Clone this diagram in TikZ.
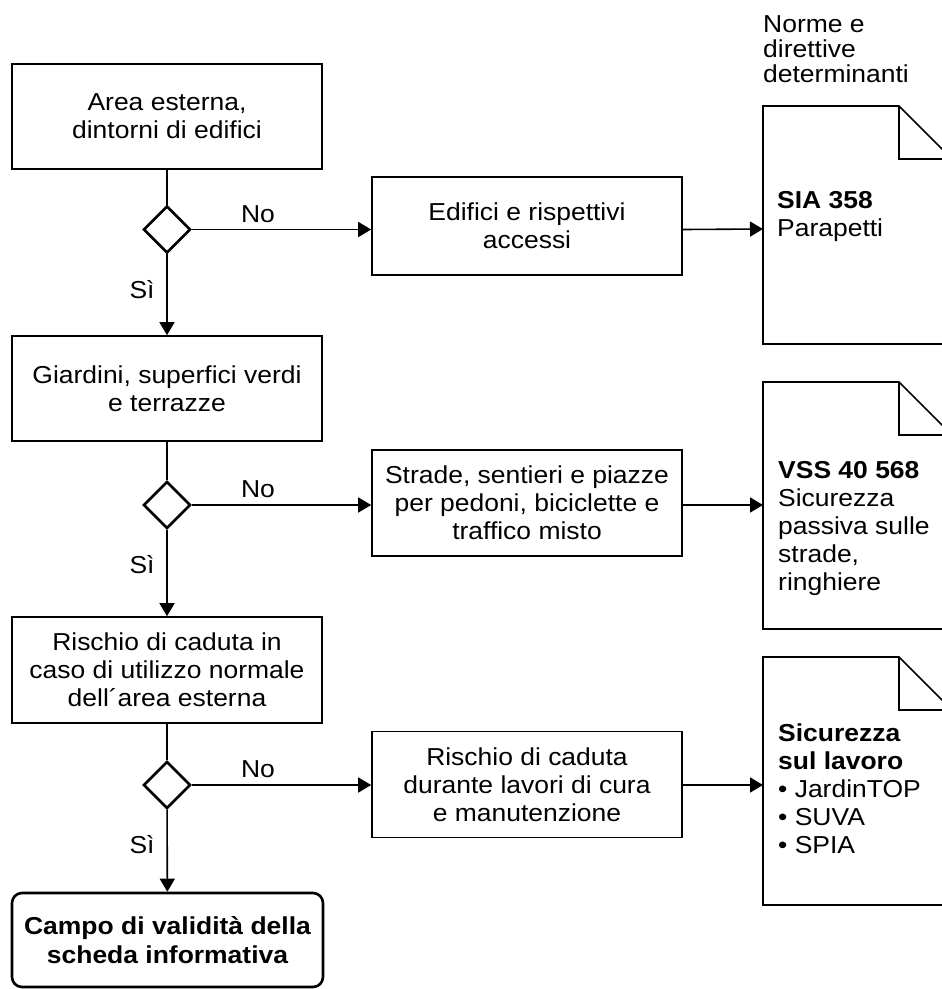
\documentclass[tikz,border=0pt]{standalone}
\usepackage{fontspec}
\setmainfont{Liberation Sans}[FakeStretch=1.08]
\usetikzlibrary{shapes.geometric,arrows.meta}
\begin{document}
\begin{tikzpicture}[x=1pt,y=-1pt,
    font=\fontsize{24.5}{28}\selectfont,
    box/.style={draw,line width=1.6pt,minimum width=310pt,align=center,inner sep=0pt},
    test/.style={draw,diamond,line width=2.6pt,minimum size=47pt,inner sep=0pt},
    goal/.style={draw,rounded corners=10pt,line width=2.6pt,minimum width=311pt,
      minimum height=94pt,align=center,inner sep=0pt,font=\fontsize{24.5}{29}\selectfont\bfseries},
    doc/.style={line width=1.6pt},
    doctext/.style={align=left,inner sep=0pt,anchor=north west},
    flow/.style={line width=1.6pt,-{Triangle[width=15pt,length=13pt]}},
    lbl/.style={inner sep=0pt,anchor=base}]
  \useasboundingbox (0,0) rectangle (942,989);
  \clip (0,0) rectangle (942,989);
  % left column
  \node[box,minimum height=105pt] (area) at (167,116.5) {Area esterna,\\dintorni di edifici};
  \node[test] (q1) at (167,229.5) {};
  \node[box,minimum height=105pt] (giardini) at (167,388.5) {Giardini, superfici verdi\\e terrazze};
  \node[test] (q2) at (167,505) {};
  \node[box,minimum height=106pt] (rischio) at (167,670) {Rischio di caduta in\\caso di utilizzo normale\\dell´area esterna};
  \node[test] (q3) at (167,785) {};
  \node[goal] (campo) at (167.5,940) {Campo di validità della\\scheda informativa};
  % middle column
  \node[box,minimum height=98pt] (edifici) at (527,226) {Edifici e rispettivi\\accessi};
  \node[box,minimum height=106pt] (strade) at (527,503) {Strade, sentieri e piazze\\per pedoni, biciclette e\\traffico misto};
  \node[box,minimum height=106pt] (lavori) at (527,784.5) {Rischio di caduta\\durante lavori di cura\\e manutenzione};
  % documents
  \node[doctext,font=\fontsize{24.5}{25}\selectfont] (norme) at (763,15) {Norme e\\direttive\\determinanti};
  \draw[doc] (763,106) -- (899,106) -- (952,159) -- (952,344) -- (763,344) -- cycle;
  \draw[doc] (899,106) -- (899,159) -- (952,159);
  \coordinate (sia) at (763,229);
  \node[doctext] (siatext) at (777,191) {\textbf{SIA 358}\\Parapetti};
  \draw[doc] (763,382) -- (899,382) -- (952,435) -- (952,629) -- (763,629) -- cycle;
  \draw[doc] (899,382) -- (899,435) -- (952,435);
  \coordinate (vss) at (763,505);
  \node[doctext] (vsstext) at (778,461) {\textbf{VSS 40 568}\\Sicurezza\\passiva sulle\\strade,\\ringhiere};
  \draw[doc] (763,657) -- (899,657) -- (952,710) -- (952,905) -- (763,905) -- cycle;
  \draw[doc] (899,657) -- (899,710) -- (952,710);
  \coordinate (suva) at (763,785);
  \node[doctext] (suvatext) at (778,724) {\textbf{Sicurezza}\\\textbf{sul lavoro}\\• JardinTOP\\• SUVA\\• SPIA};
  % connectors
  \begin{scope}[line width=1.6pt]
    \draw (area) -- (q1);
    \draw[flow] (q1) -- (giardini);
    \draw[flow] (q1) -- (q1 -| edifici.west);
    \draw[flow] (q1 -| edifici.east) -- (sia);
    \draw (giardini) -- (q2);
    \draw[flow] (q2) -- (rischio);
    \draw[flow] (q2) -- (q2 -| strade.west);
    \draw[flow] (q2 -| strade.east) -- (vss);
    \draw (rischio) -- (q3);
    \draw[flow] (q3) -- (campo);
    \draw[flow] (q3) -- (q3 -| lavori.west);
    \draw[flow] (q3 -| lavori.east) -- (suva);
  \end{scope}
  % labels
  \node[lbl] (no1) at (258,222) {No};
  \node[lbl] (si1) at (142,298) {Sì};
  \node[lbl] (no2) at (258,497.5) {No};
  \node[lbl] (si2) at (142,573.5) {Sì};
  \node[lbl] (no3) at (258,777.5) {No};
  \node[lbl] (si3) at (142,853.5) {Sì};
\end{tikzpicture}
\end{document}
